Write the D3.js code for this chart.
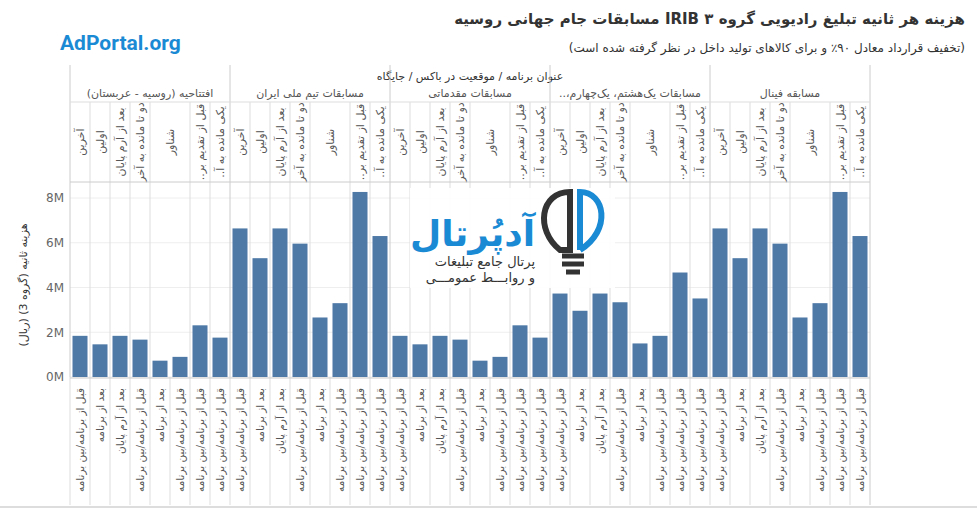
<!DOCTYPE html>
<html><head><meta charset="utf-8">
<script src="https://cdn.jsdelivr.net/npm/d3@7"></script>
<style>
body{margin:0;background:#fff;font-family:"DejaVu Sans",sans-serif;}
.fa{direction:rtl;unicode-bidi:embed;}
</style></head>
<body><svg id="chart" width="977" height="515"></svg>
<script>
const groups = ["افتتاحیه (روسیه - عربستان)", "مسابقات تیم ملی ایران", "مسابقات مقدماتی", "مسابقات یک‌هشتم، یک‌چهارم،..", "مسابقه فینال"];
const positions = ["آخرین", "اولین", "بعد از آرم پایان", "دو تا مانده به آخر", "شناور", "قبل از تقدیم بر..", "یکی مانده به آ.."];
// number of bars under each position
const posBars = [1, 1, 1, 1, 2, 1, 1];
const slots = ["قبل از برنامه/بین برنامه", "بعد از برنامه", "بعد از آرم پایان", "قبل از برنامه/بین برنامه", "بعد از برنامه", "قبل از برنامه/بین برنامه", "قبل از برنامه/بین برنامه", "قبل از برنامه/بین برنامه"];
const values = [
  [1.84, 1.46, 1.84, 1.67, 0.73, 0.9, 2.31, 1.76],
  [6.64, 5.31, 6.64, 5.96, 2.66, 3.3, 8.27, 6.3],
  [1.84, 1.46, 1.84, 1.67, 0.73, 0.9, 2.31, 1.76],
  [3.73, 2.96, 3.73, 3.34, 1.5, 1.84, 4.67, 3.51],
  [6.64, 5.31, 6.64, 5.96, 2.66, 3.3, 8.27, 6.3]
];
const yTicks = [0, 2, 4, 6, 8];

const svg = d3.select("#chart");
const left = 70, right = 870, plotTop = 182, bottom = 377;
const data = [];
groups.forEach((g, gi) => values[gi].forEach((v, i) => data.push({g: gi, i: i, v: v, slot: slots[i], key: gi + "-" + i})));

const x = d3.scaleBand().domain(data.map(d => d.key)).range([left, right]).paddingInner(0.25).paddingOuter(0.125);
const step = x.step();
const y = d3.scaleLinear().domain([0, 8]).range([bottom, 198]);

// header text (rtl: anchor start = right edge)
svg.append("text").attr("class", "fa").attr("x", 965).attr("y", 24).attr("text-anchor", "start")
  .style("font-size", "15px").style("font-weight", "bold").attr("fill", "#333")
  .text("هزینه هر ثانیه تبلیغ رادیویی گروه ۳ IRIB مسابقات جام جهانی روسیه");
svg.append("text").attr("class", "fa").attr("x", 965).attr("y", 52).attr("text-anchor", "start")
  .style("font-size", "12px").attr("fill", "#333")
  .text("(تخفیف قرارداد معادل ۹۰٪ و برای کالاهای تولید داخل در نظر گرفته شده است)");
svg.append("text").attr("x", 60).attr("y", 50).style("font-size", "21px").style("font-weight", "bold")
  .style("font-family", "Roboto, sans-serif").attr("fill", "#1a8ad4").text("AdPortal.org");
svg.append("text").attr("class", "fa").attr("x", 470).attr("y", 80).attr("text-anchor", "middle")
  .style("font-size", "11px").attr("fill", "#333").text("عنوان برنامه / موقعیت در باکس / جایگاه");

// horizontal grid
svg.append("g").selectAll("line").data(yTicks).join("line")
  .attr("x1", left).attr("x2", right).attr("y1", d => y(d)).attr("y2", d => y(d))
  .attr("stroke", "#eee");

// group + position columns
const gw = step * 8;
groups.forEach((g, gi) => {
  const gx = left + gi * gw;
  svg.append("text").attr("class", "fa").attr("x", gx + gw / 2).attr("y", 97).attr("text-anchor", "middle")
    .style("font-size", "11px").attr("fill", "#555").text(g);
  let off = 0;
  positions.forEach((p, pi) => {
    const px = gx + off * step, pw = posBars[pi] * step;
    svg.append("text").attr("class", "fa").attr("transform", `translate(${px + pw / 2 + 4},142) rotate(-90)`)
      .attr("text-anchor", "middle").style("font-size", "11px").attr("fill", "#555").text(p);
    if (pi > 0) svg.append("line").attr("x1", px).attr("x2", px).attr("y1", 102).attr("y2", bottom).attr("stroke", "#ddd");
    off += posBars[pi];
  });
  svg.append("line").attr("x1", gx).attr("x2", gx).attr("y1", 65).attr("y2", bottom).attr("stroke", "#ccc");
});
svg.append("line").attr("x1", right).attr("x2", right).attr("y1", 65).attr("y2", 505).attr("stroke", "#ccc");
svg.append("line").attr("x1", left).attr("x2", right).attr("y1", 102).attr("y2", 102).attr("stroke", "#ddd");
svg.append("line").attr("x1", left).attr("x2", right).attr("y1", plotTop).attr("y2", plotTop).attr("stroke", "#ccc");

// logo watermark
const lg = svg.append("g");
lg.append("rect").attr("x", 410).attr("y", 188).attr("width", 205).attr("height", 100).attr("fill", "#fff").attr("opacity", 0.9);
lg.append("text").attr("x", 535).attr("y", 246).attr("text-anchor", "end").style("font-size", "36px").style("font-weight", "bold").attr("fill", "#1a8ad4").text("آدپُرتال");
lg.append("text").attr("x", 535).attr("y", 266).attr("text-anchor", "end").style("font-size", "13px").attr("fill", "#333").text("پرتال جامع تبلیغات");
lg.append("text").attr("x", 535).attr("y", 282).attr("text-anchor", "end").style("font-size", "13px").attr("fill", "#333").text("و روابـــط عمومـــی");
lg.append("path").attr("d", "M560,250 C535,230 540,192 570,192 L570,250 Z").attr("fill", "none").attr("stroke", "#333").attr("stroke-width", 6);
lg.append("path").attr("d", "M580,250 L580,192 C605,192 612,230 580,250").attr("fill", "none").attr("stroke", "#1a8ad4").attr("stroke-width", 6);
lg.append("path").attr("d", "M562,256 h22 M562,264 h22 M566,272 h14").attr("stroke", "#333").attr("stroke-width", 5);

// bars
svg.append("g").selectAll("rect").data(data).join("rect")
  .attr("x", d => x(d.key)).attr("width", x.bandwidth())
  .attr("y", d => y(d.v)).attr("height", d => y(0) - y(d.v))
  .attr("fill", "#4e79a7");

// bottom labels and separators
svg.append("g").selectAll("text").data(data).join("text").attr("class", "fa")
  .attr("transform", d => `translate(${x(d.key) + x.bandwidth() / 2 + 4},388) rotate(-90)`)
  .attr("text-anchor", "start").style("font-size", "10.5px").attr("fill", "#555").text(d => d.slot);
svg.append("g").selectAll("line").data(data).join("line")
  .attr("x1", d => x(d.key) - (step - x.bandwidth()) / 2).attr("x2", d => x(d.key) - (step - x.bandwidth()) / 2)
  .attr("y1", bottom).attr("y2", 505).attr("stroke", "#ddd");
svg.append("line").attr("x1", left).attr("x2", right).attr("y1", bottom + 1).attr("y2", bottom + 1).attr("stroke", "#ccc");
svg.append("line").attr("x1", 0).attr("x2", 977).attr("y1", 507).attr("y2", 507).attr("stroke", "#bbb");

// y axis
svg.append("g").attr("transform", `translate(${left},0)`)
  .call(d3.axisLeft(y).tickValues(yTicks).tickFormat(d => d + "M").tickSize(0).tickPadding(6))
  .call(g => g.select(".domain").remove())
  .call(g => g.selectAll("text").style("font-size", "12px").attr("fill", "#666").style("font-family", "DejaVu Sans"));
svg.append("text").attr("class", "fa").attr("transform", "translate(27,285) rotate(-90)").attr("text-anchor", "middle")
  .style("font-size", "11px").attr("fill", "#333").text("هزینه ثانیه (گروه 3) (ریال)");
</script></body></html>
